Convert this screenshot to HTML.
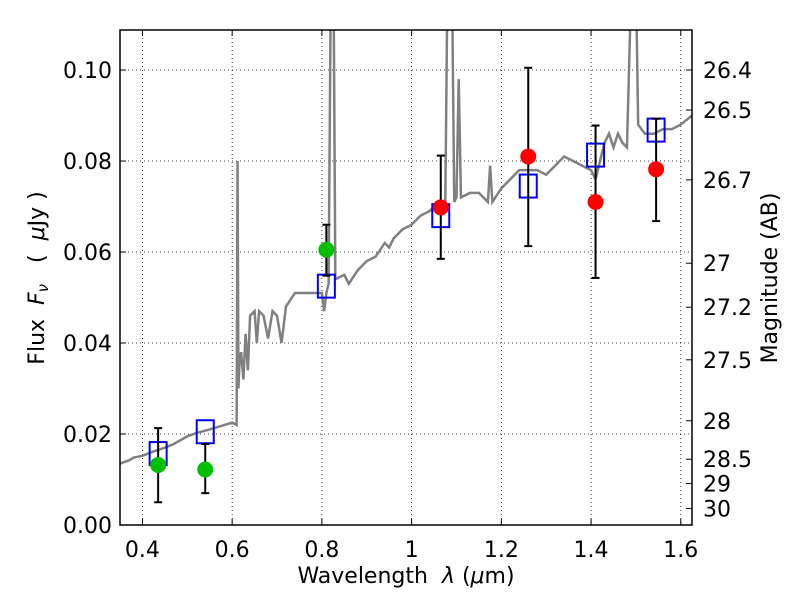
<!DOCTYPE html>
<html><head><meta charset="utf-8"><style>
body{margin:0;background:#fff}
text{font-family:"DejaVu Sans","Liberation Sans",sans-serif;fill:#000}
</style></head><body>
<svg id="chart" width="800" height="600" xmlns="http://www.w3.org/2000/svg">
<g id="grid"></g>
<g id="spec"></g>
<g id="marks"></g>
<g id="axes"></g>
<text x="406" y="583" font-size="22" text-anchor="middle" xml:space="preserve">Wavelength  <tspan font-style="italic">λ</tspan> (<tspan font-style="italic">μ</tspan>m)</text>
<text transform="translate(44,278) rotate(-90)" font-size="22" text-anchor="middle" xml:space="preserve">Flux  <tspan font-style="italic">F<tspan font-size="15" dy="4">ν</tspan></tspan><tspan dy="-4">   (  </tspan><tspan font-style="italic">μ</tspan>Jy )</text>
<text transform="translate(777,278) rotate(-90)" font-size="22" text-anchor="middle">Magnitude (AB)</text>
</svg>
<script>
const xTicks=[0.4,0.6,0.8,1.0,1.2,1.4,1.6];
const xTickLabels=["0.4","0.6","0.8","1","1.2","1.4","1.6"];
const yTicks=[0,0.02,0.04,0.06,0.08,0.10];
const yTickLabels=["0.00","0.02","0.04","0.06","0.08","0.10"];
const magTicks=[26.4,26.5,26.7,27,27.2,27.5,28,28.5,29,30];
const magTickLabels=["26.4","26.5","26.7","27","27.2","27.5","28","28.5","29","30"];
const greenX=[0.435,0.54,0.81];
const greenY=[0.0132,0.0122,0.0605];
const greenLo=[0.005,0.007,0.0548];
const greenHi=[0.0213,0.0178,0.066];
const redX=[1.065,1.26,1.41,1.545];
const redY=[0.0698,0.081,0.071,0.0782];
const redLo=[0.0585,0.0613,0.0543,0.0668];
const redHi=[0.0812,0.1005,0.0878,0.0893];
const modelX=[0.435,0.54,0.81,1.065,1.26,1.41,1.545];
const modelY=[0.0157,0.0205,0.0525,0.068,0.0745,0.0813,0.0868];
const specW=[0.35,0.37,0.38,0.40,0.42,0.45,0.47,0.50,0.52,0.55,0.57,0.60,0.61,0.612,0.614,0.616,0.62,0.625,0.63,0.635,0.64,0.65,0.655,0.66,0.67,0.68,0.69,0.70,0.71,0.72,0.74,0.76,0.78,0.80,0.805,0.81,0.815,0.82,0.826,0.83,0.85,0.86,0.88,0.90,0.92,0.94,0.95,0.96,0.98,1.0,1.02,1.04,1.06,1.07,1.075,1.08,1.09,1.095,1.10,1.105,1.11,1.13,1.15,1.16,1.17,1.175,1.18,1.20,1.22,1.24,1.26,1.28,1.30,1.32,1.34,1.36,1.38,1.40,1.41,1.42,1.43,1.44,1.45,1.46,1.47,1.48,1.49,1.50,1.505,1.52,1.54,1.56,1.58,1.60,1.625];
const specF=[0.0135,0.0142,0.0148,0.0152,0.016,0.017,0.0178,0.0195,0.0202,0.021,0.0216,0.0225,0.022,0.08,0.03,0.035,0.038,0.032,0.042,0.034,0.046,0.047,0.04,0.047,0.046,0.041,0.047,0.046,0.04,0.048,0.051,0.051,0.051,0.051,0.047,0.051,0.053,0.12,0.12,0.054,0.055,0.053,0.056,0.058,0.059,0.062,0.061,0.063,0.065,0.066,0.068,0.069,0.071,0.069,0.07,0.12,0.12,0.071,0.072,0.098,0.072,0.073,0.073,0.072,0.071,0.079,0.071,0.074,0.076,0.078,0.078,0.078,0.077,0.079,0.081,0.080,0.079,0.078,0.076,0.080,0.084,0.086,0.083,0.086,0.084,0.083,0.12,0.12,0.088,0.086,0.086,0.087,0.087,0.088,0.090];
const L=120,R=692,T=30,B=525,XMIN=0.35,XMAX=1.625,YMIN=0,YMAX=0.1088;
const sx=v=>L+(v-XMIN)/(XMAX-XMIN)*(R-L);
const sy=v=>B-(v-YMIN)/(YMAX-YMIN)*(B-T);
const NS="http://www.w3.org/2000/svg";
function mk(tag,attrs,parent){const e=document.createElementNS(NS,tag);for(const k in attrs)e.setAttribute(k,attrs[k]);parent.appendChild(e);return e;}
const grid=document.getElementById('grid'),axes=document.getElementById('axes'),spec=document.getElementById('spec'),marks=document.getElementById('marks');
xTicks.forEach((t,i)=>{
 const g=mk('line',{x1:sx(t),x2:sx(t),y1:T,y2:B,stroke:'#000','stroke-width':0.8,'stroke-dasharray':'1,3'},grid);
 
 
 mk('line',{x1:sx(t),x2:sx(t),y1:B,y2:B-6,stroke:'#000'},axes);
 mk('line',{x1:sx(t),x2:sx(t),y1:T,y2:T+6,stroke:'#000'},axes);
 const tx=mk('text',{x:sx(t),y:B+32,'font-size':22,'text-anchor':'middle'},axes);
 tx.textContent=xTickLabels[i];
 
 
});
yTicks.forEach((t,i)=>{
 const g=mk('line',{x1:L,x2:R,y1:sy(t),y2:sy(t),stroke:'#000','stroke-width':0.8,'stroke-dasharray':'1,3'},grid);
 
 
 mk('line',{x1:L,x2:L+6,y1:sy(t),y2:sy(t),stroke:'#000'},axes);
 const tx=mk('text',{x:L-8,y:sy(t)+8,'font-size':22,'text-anchor':'end'},axes);
 tx.textContent=yTickLabels[i];
 
 
});
magTicks.forEach((m,i)=>{
 const f=Math.pow(10,(23.9-m)/2.5);const y=sy(f);
 mk('line',{x1:R,x2:R-6,y1:y,y2:y,stroke:'#000'},axes);
 const tx=mk('text',{x:R+11,y:y+8,'font-size':22},axes);
 tx.textContent=magTickLabels[i];
 
 
});
const clip=mk('clipPath',{id:'pc'},document.getElementById('chart'));
mk('rect',{x:L,y:T,width:R-L,height:B-T},clip);
const sp=mk('polyline',{points:specW.map((w,i)=>sx(w)+','+sy(specF[i])).join(' '),fill:'none',stroke:'#808080','stroke-width':2.5,'clip-path':'url(#pc)'},spec);


function err(x,lo,hi){
 const g=mk('g',{},marks);
 
 
 mk('line',{x1:sx(x),x2:sx(x),y1:sy(lo),y2:sy(hi),stroke:'#000','stroke-width':2},g);
 mk('line',{x1:sx(x)-4,x2:sx(x)+4,y1:sy(lo),y2:sy(lo),stroke:'#000','stroke-width':2},g);
 mk('line',{x1:sx(x)-4,x2:sx(x)+4,y1:sy(hi),y2:sy(hi),stroke:'#000','stroke-width':2},g);
}
modelX.forEach((x,i)=>{
 const r=mk('rect',{x:sx(x)-8.5,y:sy(modelY[i])-11.5,width:17,height:23,fill:'none',stroke:'#0000ff','stroke-width':2},marks);
 
 
});
greenX.forEach((x,i)=>{
 err(x,greenLo[i],greenHi[i]);
 const c=mk('circle',{cx:sx(x),cy:sy(greenY[i]),r:8,fill:'#00c000'},marks);
 
 
});
redX.forEach((x,i)=>{
 err(x,redLo[i],redHi[i]);
 const c=mk('circle',{cx:sx(x),cy:sy(redY[i]),r:8,fill:'#ff0000'},marks);
 
 
});
const fr=mk('rect',{x:L,y:T,width:R-L,height:B-T,fill:'none',stroke:'#000','stroke-width':1.5},axes);


</script>
</body></html>
